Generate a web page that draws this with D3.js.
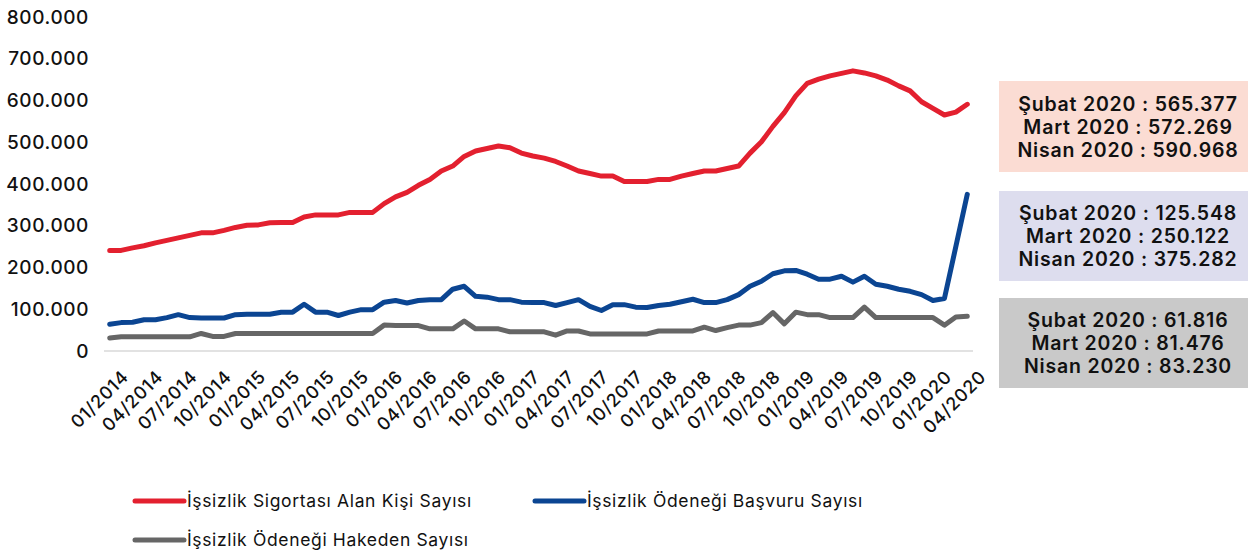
<!DOCTYPE html>
<html><head><meta charset="utf-8">
<script src="https://cdn.jsdelivr.net/npm/d3@7/dist/d3.min.js"></script>
<style>
html,body{margin:0;padding:0;background:#fff;}
svg{display:block;font-family:Inter,"Noto Sans",sans-serif;}
</style></head>
<body><svg id="c" width="1248" height="552"></svg>
<script>
const months = ["01/2014","02/2014","03/2014","04/2014","05/2014","06/2014","07/2014","08/2014","09/2014","10/2014","11/2014","12/2014",
"01/2015","02/2015","03/2015","04/2015","05/2015","06/2015","07/2015","08/2015","09/2015","10/2015","11/2015","12/2015",
"01/2016","02/2016","03/2016","04/2016","05/2016","06/2016","07/2016","08/2016","09/2016","10/2016","11/2016","12/2016",
"01/2017","02/2017","03/2017","04/2017","05/2017","06/2017","07/2017","08/2017","09/2017","10/2017","11/2017","12/2017",
"01/2018","02/2018","03/2018","04/2018","05/2018","06/2018","07/2018","08/2018","09/2018","10/2018","11/2018","12/2018",
"01/2019","02/2019","03/2019","04/2019","05/2019","06/2019","07/2019","08/2019","09/2019","10/2019","11/2019","12/2019",
"01/2020","02/2020","03/2020","04/2020"];
const tickLabels = ["01/2014","04/2014","07/2014","10/2014","01/2015","04/2015","07/2015","10/2015","01/2016","04/2016","07/2016","10/2016",
"01/2017","04/2017","07/2017","10/2017","01/2018","04/2018","07/2018","10/2018","01/2019","04/2019","07/2019","10/2019","01/2020","04/2020"];
const yTicks = [0,100000,200000,300000,400000,500000,600000,700000,800000];

const sigortaAlan = [241000,241000,247000,252000,259000,265000,271000,277000,283000,283000,289000,296000,
301000,302000,307000,308000,308000,321000,326000,326000,326000,332000,332000,332000,
353000,369000,380000,397000,411000,431000,443000,466000,479000,485000,491000,487000,
474000,467000,462000,454000,443000,431000,425000,419000,419000,406000,406000,406000,
411000,411000,419000,425000,431000,431000,437000,443000,474000,501000,538000,571000,
611000,641000,651000,659000,665000,671000,666000,659000,649000,635000,623000,597000,
581000,565377,572269,590968];
const basvuru = [64000,68000,69000,75000,75000,80000,87000,80000,79000,79000,79000,87000,
88000,88000,88000,93000,93000,112000,93000,93000,85000,93000,99000,99000,
117000,121000,115000,121000,123000,123000,148000,155000,131000,129000,123000,123000,
117000,116000,116000,109000,116000,123000,107000,97000,111000,111000,105000,104000,
109000,112000,118000,124000,116000,116000,123000,135000,155000,167000,185000,192000,
193000,184000,172000,172000,179000,165000,179000,160000,155000,148000,143000,135000,
121000,125548,250122,375282];
const hakeden = [31000,34000,34000,34000,34000,34000,34000,34000,42000,35000,35000,42000,
42000,42000,42000,42000,42000,42000,42000,42000,42000,42000,42000,42000,
62000,61000,61000,61000,53000,53000,53000,72000,53000,53000,53000,46000,
46000,46000,46000,38000,48000,48000,41000,41000,41000,41000,41000,41000,
48000,48000,48000,48000,57000,49000,56000,62000,62000,68000,92000,65000,
93000,87000,87000,80000,80000,80000,105000,80000,80000,80000,80000,80000,
80000,61816,81476,83230];

const seriesNames = ["İşsizlik Sigortası Alan Kişi Sayısı","İşsizlik Ödeneği Başvuru Sayısı","İşsizlik Ödeneği Hakeden Sayısı"];
const seriesColors = ["#E3202F","#0B4592","#666666"];
const boxLines = [
  ["Şubat 2020 : 565.377","Mart 2020 : 572.269","Nisan 2020 : 590.968"],
  ["Şubat 2020 : 125.548","Mart 2020 : 250.122","Nisan 2020 : 375.282"],
  ["Şubat 2020 : 61.816","Mart 2020 : 81.476","Nisan 2020 : 83.230"]
];
const boxColors = ["#FBDCD3","#DDDDEE","#C9C9C9"];

const svg = d3.select("#c");
const x = d3.scaleBand().domain(months).range([104,973]).paddingInner(0).paddingOuter(0);
const xc = d => x(d) + x.bandwidth()/2;
const y = d3.scaleLinear().domain([0,800000]).range([351,17]);
const fmt = v => v===0 ? "0" : d3.format(",")(v).replace(/,/g,".");

// baseline
svg.append("line").attr("x1",104).attr("x2",973).attr("y1",y(0)).attr("y2",y(0))
  .attr("stroke","#D9D9D9").attr("stroke-width",1.3);

// y axis
const ya = svg.append("g").attr("transform","translate(92,0)")
  .call(d3.axisLeft(y).tickValues(yTicks).tickFormat(fmt).tickSize(0).tickPadding(3));
ya.select(".domain").remove();
ya.selectAll("text").attr("font-size",19).attr("font-weight",500).attr("fill","#111")
  .attr("font-family","Inter,sans-serif").attr("letter-spacing","0.6px");

// x axis
const xa = svg.append("g").attr("transform",`translate(0,${y(0)})`)
  .call(d3.axisBottom(x).tickValues(tickLabels).tickSize(0));
xa.select(".domain").remove();
xa.selectAll("text").attr("font-size",18).attr("font-weight",500).attr("fill","#111")
  .attr("font-family","Inter,sans-serif").attr("letter-spacing","0.7px")
  .attr("text-anchor","end").attr("dy",null).attr("y",null)
  .attr("transform","translate(20,27) rotate(-45)");

// lines
const allSeries = [sigortaAlan, basvuru, hakeden];
const line = d3.line().x((d,i)=>xc(months[i])).y(d=>y(d));
[2,1,0].forEach(k=>{
  svg.append("path").datum(allSeries[k]).attr("d",line).attr("fill","none")
    .attr("stroke",seriesColors[k]).attr("stroke-width",5)
    .attr("stroke-linejoin","round").attr("stroke-linecap","round");
});

// boxes
const boxY = [81,191,298], boxH = [91,90,90];
boxLines.forEach((ls,k)=>{
  svg.append("rect").attr("x",999).attr("y",boxY[k]).attr("width",260).attr("height",boxH[k]).attr("fill",boxColors[k]);
  const cy = boxY[k] + boxH[k]/2;
  ls.forEach((t,j)=>{
    svg.append("text").attr("x",1128).attr("y",cy + (j-1)*23).attr("dy","0.36em")
      .attr("text-anchor","middle").attr("font-size",19.5).attr("font-weight",600)
      .attr("letter-spacing","0.8px")
      .attr("font-family","Inter,sans-serif").attr("fill","#111").text(t);
  });
});

// legend
const legPos = [[133,501],[533,501],[133,540]];
seriesNames.forEach((n,k)=>{
  const [lx,ly] = legPos[k];
  svg.append("line").attr("x1",lx+2).attr("x2",lx+51).attr("y1",ly).attr("y2",ly)
    .attr("stroke",seriesColors[k]).attr("stroke-width",5).attr("stroke-linecap","round");
  svg.append("text").attr("x",lx+54).attr("y",ly).attr("dy","0.36em")
    .attr("font-size",17.5).attr("letter-spacing","0.65px")
    .attr("font-family","Inter,sans-serif").attr("fill","#111").text(n);
});
</script></body></html>
